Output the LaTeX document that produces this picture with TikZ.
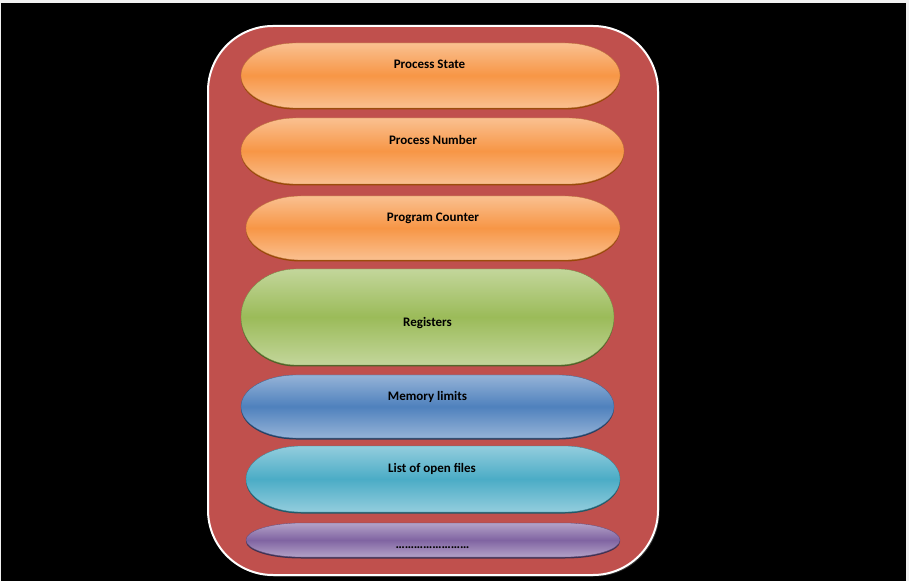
\documentclass[tikz,border=0pt]{standalone}
\usepackage{fontspec}
\setmainfont{Carlito}
\definecolor{pcbred}{HTML}{C0504D}
\definecolor{orangelight}{HTML}{FAC090}
\definecolor{orangemid}{HTML}{F79646}
\definecolor{orangeedge}{HTML}{984807}
\definecolor{greenlight}{HTML}{C3D69B}
\definecolor{greenmid}{HTML}{9BBB59}
\definecolor{greenedge}{HTML}{4F6228}
\definecolor{bluelight}{HTML}{95B3D7}
\definecolor{bluemid}{HTML}{4F81BD}
\definecolor{blueedge}{HTML}{254061}
\definecolor{aqualight}{HTML}{93CDDD}
\definecolor{aquamid}{HTML}{4BACC6}
\definecolor{aquaedge}{HTML}{215968}
\definecolor{purplelight}{HTML}{B3A2C7}
\definecolor{purplemid}{HTML}{8064A2}
\definecolor{purpleedge}{HTML}{3F3151}
\tikzset{pcbtext/.style = {font=\bfseries\fontsize{13}{15}\selectfont, text=black,
                           inner sep=0pt, anchor=base}}
\newcommand{\pill}[5]{%
  \fill [#5edge] (#1+55, #4-1.5) -- (#3-55, #4-1.5)
    arc [start angle=90, end angle=-90, x radius=55pt, y radius={(#4-#2)/2*1pt}]
    -- (#1+55, #2-1.5)
    arc [start angle=270, end angle=90, x radius=55pt, y radius={(#4-#2)/2*1pt}] -- cycle;
  \shade [top color=#5light, bottom color=#5light, middle color=#5mid,
          draw=#5mid!75!black, line width=0.3pt] (#1+55, #4) -- (#3-55, #4)
    arc [start angle=90, end angle=-90, x radius=55pt, y radius={(#4-#2)/2*1pt}]
    -- (#1+55, #2)
    arc [start angle=270, end angle=90, x radius=55pt, y radius={(#4-#2)/2*1pt}] -- cycle;}

\begin{document}
\begin{tikzpicture}[x=1pt, y=1pt]
      \useasboundingbox (0, 0) rectangle (909, 581);
      \fill [gray!12] (0, 0) rectangle (909, 581);
      \fill [black] (1, 0) rectangle (906, 578);
      \fill [black!80!white, rounded corners=65pt] (209.5, 4.5) rectangle (659.5, 553.5);
      \draw [white, fill=pcbred, line width=2pt, rounded corners=65pt] (208, 6) rectangle (658, 555);

      \pill{241}{473}{620}{538}{orange}
      \pill{241}{397}{624}{463}{orange}
      \pill{246}{321}{620}{385}{orange}
      \pill{241}{216}{614}{312}{green}
      \pill{241}{143}{614}{206}{blue}
      \pill{246}{69}{620}{135}{aqua}
      \pill{246}{24}{620}{58}{purple}

      \node [pcbtext] (state) at (429.5, 512) {Process State};
      \node [pcbtext] (number) at (433, 436.5) {Process Number};
      \node [pcbtext] (counter) at (433, 359.5) {Program Counter};
      \node [pcbtext] (registers) at (427.5, 254) {Registers};
      \node [pcbtext] (limits) at (427.5, 181) {Memory limits};
      \node [pcbtext] (files) at (432, 109) {List of open files};
      \node [pcbtext] (more) at (432.5, 33) {……………………};
    \end{tikzpicture}
\end{document}
